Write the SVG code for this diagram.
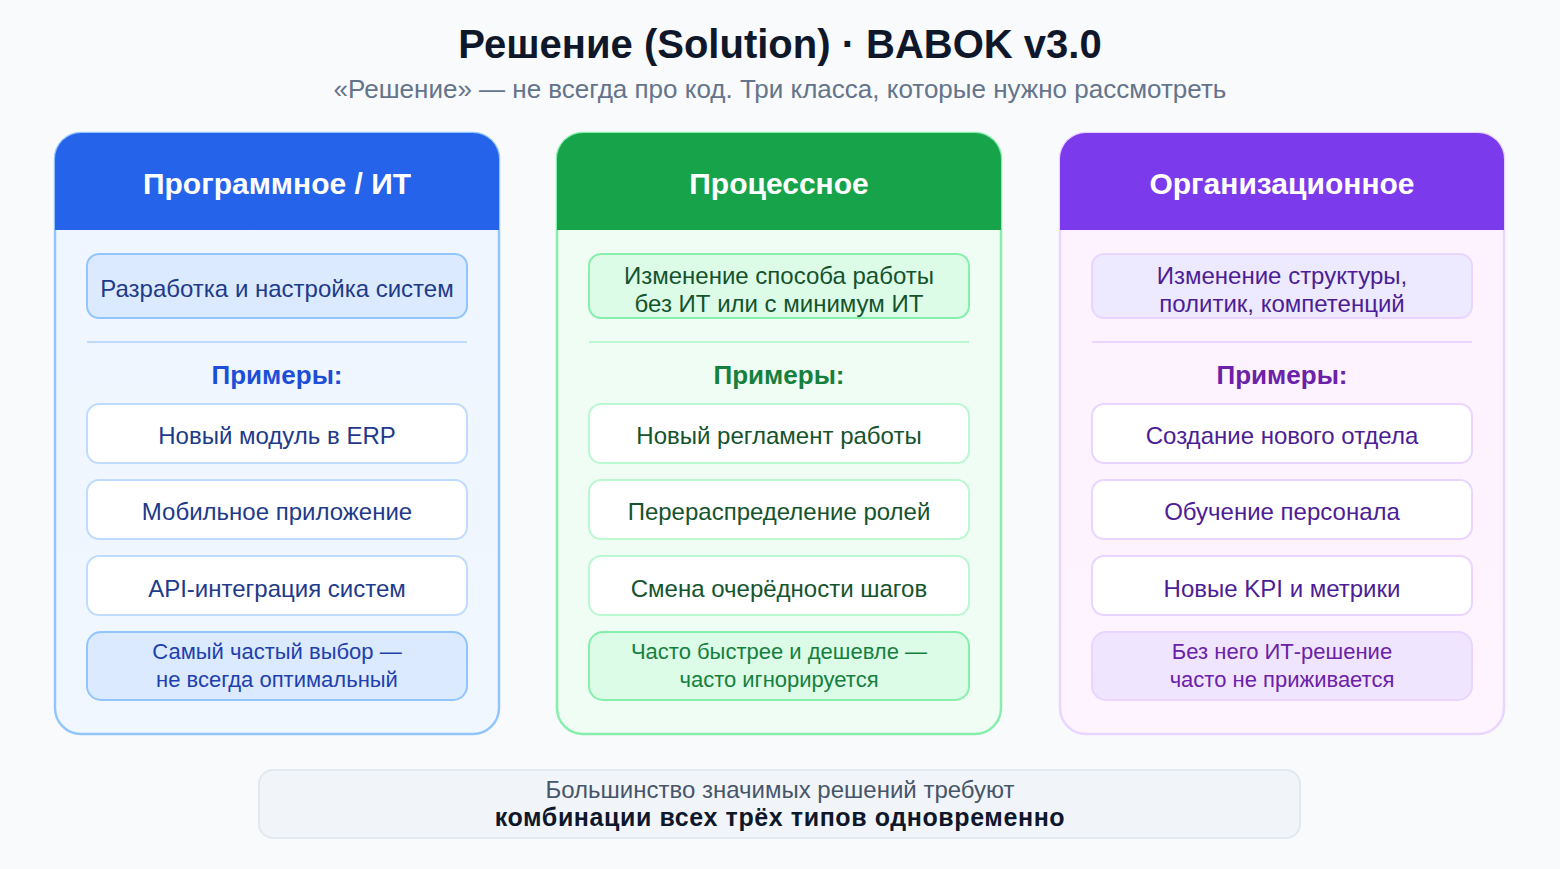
<svg xmlns="http://www.w3.org/2000/svg" width="1560" height="869" viewBox="0 0 1560 869">
<defs>
<style>
text{font-family:"Liberation Sans",Arial,sans-serif;text-anchor:middle}
.title{font-size:40px;font-weight:bold;fill:#0f172a}
.sub{font-size:26px;fill:#64748b}
.hdr{font-size:30px;font-weight:bold;fill:#ffffff}
.t{font-size:24px}
.n{font-size:22px}
.ex{font-size:26px;font-weight:bold}
.card{stroke-width:2.5}
.box{stroke-width:2}
.exbox{fill:#ffffff;stroke-width:2}
</style>
<linearGradient id="gBlue" x1="0" y1="0" x2="0" y2="1"><stop offset="0" stop-color="#eff6ff"/><stop offset="1" stop-color="#f1f7ff"/></linearGradient>
<linearGradient id="gGreen" x1="0" y1="0" x2="0" y2="1"><stop offset="0" stop-color="#effdf4"/><stop offset="1" stop-color="#f0fdf4"/></linearGradient>
<linearGradient id="gPurple" x1="0" y1="0" x2="0" y2="1"><stop offset="0" stop-color="#fdf2ff"/><stop offset="1" stop-color="#fdf4ff"/></linearGradient>
</defs>
<rect width="1560" height="869" fill="#f8fafc"/>
<text class="title" x="780" y="58">Решение (Solution) · BABOK v3.0</text>
<text class="sub" x="780" y="98">«Решение» — не всегда про код. Три класса, которые нужно рассмотреть</text>

<g id="software">
<rect class="card" x="55" y="133" width="444" height="601" rx="26" fill="url(#gBlue)" stroke="#93c5fd"/>
<path d="M55,230 V159 A26,26 0 0 1 81,133 H473 A26,26 0 0 1 499,159 V230 Z" fill="#2563eb"/>
<text class="hdr" x="277" y="194">Программное / ИТ</text>
<rect class="box" x="87" y="254" width="380" height="64" rx="12" fill="#dbeafe" stroke="#93c5fd"/>
<text class="t" x="277" y="297" fill="#1e3a8a">Разработка и настройка систем</text>
<line x1="87" y1="342" x2="467" y2="342" stroke="#bfdbfe" stroke-width="2"/>
<text class="ex" x="277" y="384" fill="#1d4ed8">Примеры:</text>
<rect class="exbox" x="87" y="404" width="380" height="59" rx="12" stroke="#bfdbfe"/>
<text class="t" x="277" y="444" fill="#1e3a8a">Новый модуль в ERP</text>
<rect class="exbox" x="87" y="480" width="380" height="59" rx="12" stroke="#bfdbfe"/>
<text class="t" x="277" y="520" fill="#1e3a8a">Мобильное приложение</text>
<rect class="exbox" x="87" y="556" width="380" height="59" rx="12" stroke="#bfdbfe"/>
<text class="t" x="277" y="597" fill="#1e3a8a">API-интеграция систем</text>
<rect class="box" x="87" y="632" width="380" height="68" rx="14" fill="#dbeafe" stroke="#93c5fd"/>
<text class="n" x="277" y="659" fill="#1e40af">Самый частый выбор —</text>
<text class="n" x="277" y="687" fill="#1e40af">не всегда оптимальный</text>
</g>

<g id="process">
<rect class="card" x="557" y="133" width="444" height="601" rx="26" fill="url(#gGreen)" stroke="#86efac"/>
<path d="M557,230 V159 A26,26 0 0 1 583,133 H975 A26,26 0 0 1 1001,159 V230 Z" fill="#16a34a"/>
<text class="hdr" x="779" y="194">Процессное</text>
<rect class="box" x="589" y="254" width="380" height="64" rx="12" fill="#dcfce7" stroke="#86efac"/>
<text class="t" x="779" y="284" fill="#14532d">Изменение способа работы</text>
<text class="t" x="779" y="312" fill="#14532d">без ИТ или с минимум ИТ</text>
<line x1="589" y1="342" x2="969" y2="342" stroke="#bbf7d0" stroke-width="2"/>
<text class="ex" x="779" y="384" fill="#15803d">Примеры:</text>
<rect class="exbox" x="589" y="404" width="380" height="59" rx="12" stroke="#bbf7d0"/>
<text class="t" x="779" y="444" fill="#14532d">Новый регламент работы</text>
<rect class="exbox" x="589" y="480" width="380" height="59" rx="12" stroke="#bbf7d0"/>
<text class="t" x="779" y="520" fill="#14532d">Перераспределение ролей</text>
<rect class="exbox" x="589" y="556" width="380" height="59" rx="12" stroke="#bbf7d0"/>
<text class="t" x="779" y="597" fill="#14532d">Смена очерёдности шагов</text>
<rect class="box" x="589" y="632" width="380" height="68" rx="14" fill="#dcfce7" stroke="#86efac"/>
<text class="n" x="779" y="659" fill="#15803d">Часто быстрее и дешевле —</text>
<text class="n" x="779" y="687" fill="#15803d">часто игнорируется</text>
</g>

<g id="organizational">
<rect class="card" x="1060" y="133" width="444" height="601" rx="26" fill="url(#gPurple)" stroke="#e9d5ff"/>
<path d="M1060,230 V159 A26,26 0 0 1 1086,133 H1478 A26,26 0 0 1 1504,159 V230 Z" fill="#7c3aed"/>
<text class="hdr" x="1282" y="194">Организационное</text>
<rect class="box" x="1092" y="254" width="380" height="64" rx="12" fill="#ede9fe" stroke="#e9d5ff"/>
<text class="t" x="1282" y="284" fill="#4c1d95">Изменение структуры,</text>
<text class="t" x="1282" y="312" fill="#4c1d95">политик, компетенций</text>
<line x1="1092" y1="342" x2="1472" y2="342" stroke="#e9d5ff" stroke-width="2"/>
<text class="ex" x="1282" y="384" fill="#6b21a8">Примеры:</text>
<rect class="exbox" x="1092" y="404" width="380" height="59" rx="12" stroke="#e9d5ff"/>
<text class="t" x="1282" y="444" fill="#4c1d95">Создание нового отдела</text>
<rect class="exbox" x="1092" y="480" width="380" height="59" rx="12" stroke="#e9d5ff"/>
<text class="t" x="1282" y="520" fill="#4c1d95">Обучение персонала</text>
<rect class="exbox" x="1092" y="556" width="380" height="59" rx="12" stroke="#e9d5ff"/>
<text class="t" x="1282" y="597" fill="#4c1d95">Новые KPI и метрики</text>
<rect class="box" x="1092" y="632" width="380" height="68" rx="14" fill="#f0e5ff" stroke="#e9d5ff"/>
<text class="n" x="1282" y="659" fill="#6b21a8">Без него ИТ-решение</text>
<text class="n" x="1282" y="687" fill="#6b21a8">часто не приживается</text>
</g>

<g id="summary">
<rect x="259" y="770" width="1041" height="68" rx="14" fill="#f1f5f9" stroke="#e2e8f0" stroke-width="2"/>
<text x="780" y="798" font-size="24" fill="#475569">Большинство значимых решений требуют</text>
<text x="780" y="826" font-size="25" letter-spacing="0.6" fill="#0f172a" font-weight="bold">комбинации всех трёх типов одновременно</text>
</g>
<g id="connectors"/>
</svg>
